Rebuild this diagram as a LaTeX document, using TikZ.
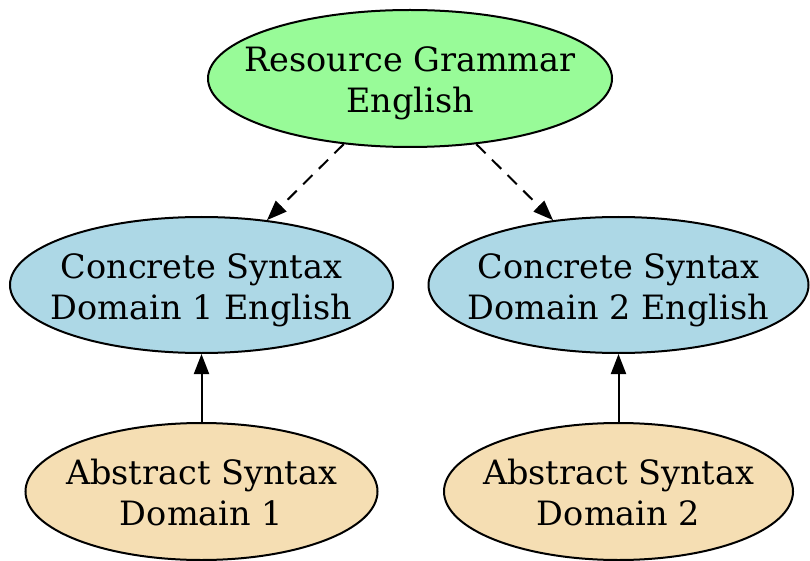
\documentclass[tikz,border=0pt]{standalone}
\usepackage{fontspec}
\setmainfont{DejaVu Serif}
\usetikzlibrary{shapes.geometric,arrows.meta}
\definecolor{palegreen}{HTML}{98FB98}
\definecolor{lightblue}{HTML}{ADD8E6}
\definecolor{wheat}{HTML}{F5DEB3}
\tikzset{
  blob/.style={ellipse, draw=black, line width=2pt, inner sep=0pt},
  caption/.style={align=center, inner sep=0pt, anchor=base,
    font=\fontsize{33.5}{41}\selectfont},
  edge/.style={line width=2pt, -{Triangle[length=20pt,width=15pt]}},
  dashedge/.style={edge, dash pattern=on 13pt off 9pt}
}
\begin{document}
\begin{tikzpicture}[x=1pt,y=1pt]
\useasboundingbox (0,0) rectangle (810,-561);
% ellipses, sized explicitly
\node[blob, fill=palegreen, minimum width=404pt, minimum height=137pt] (rg) at (410,-78.5) {};
\node[blob, fill=lightblue, minimum width=383pt, minimum height=136pt] (c1) at (201.5,-285) {};
\node[blob, fill=lightblue, minimum width=380pt, minimum height=136pt] (c2) at (618.5,-285) {};
\node[blob, fill=wheat, minimum width=352pt, minimum height=137pt] (a1) at (201.5,-491.5) {};
\node[blob, fill=wheat, minimum width=349pt, minimum height=137pt] (a2) at (618.5,-491.5) {};
% labels; the base anchor is the last line's baseline
\node[caption] (rg-t) at ([yshift=-34pt]rg.center) {Resource Grammar\\English};
\node[caption] (c1-t) at ([yshift=-34pt]c1.center) {Concrete Syntax\\Domain 1 English};
\node[caption] (c2-t) at ([yshift=-34pt]c2.center) {Concrete Syntax\\Domain 2 English};
\node[caption] (a1-t) at ([yshift=-34pt]a1.center) {Abstract Syntax\\Domain 1};
\node[caption] (a2-t) at ([yshift=-34pt]a2.center) {Abstract Syntax\\Domain 2};
% edges
\draw[dashedge] (rg) -- (c1);
\draw[dashedge] (rg) -- (c2);
\draw[edge] (a1) -- (c1);
\draw[edge] (a2) -- (c2);
\end{tikzpicture}
\end{document}
